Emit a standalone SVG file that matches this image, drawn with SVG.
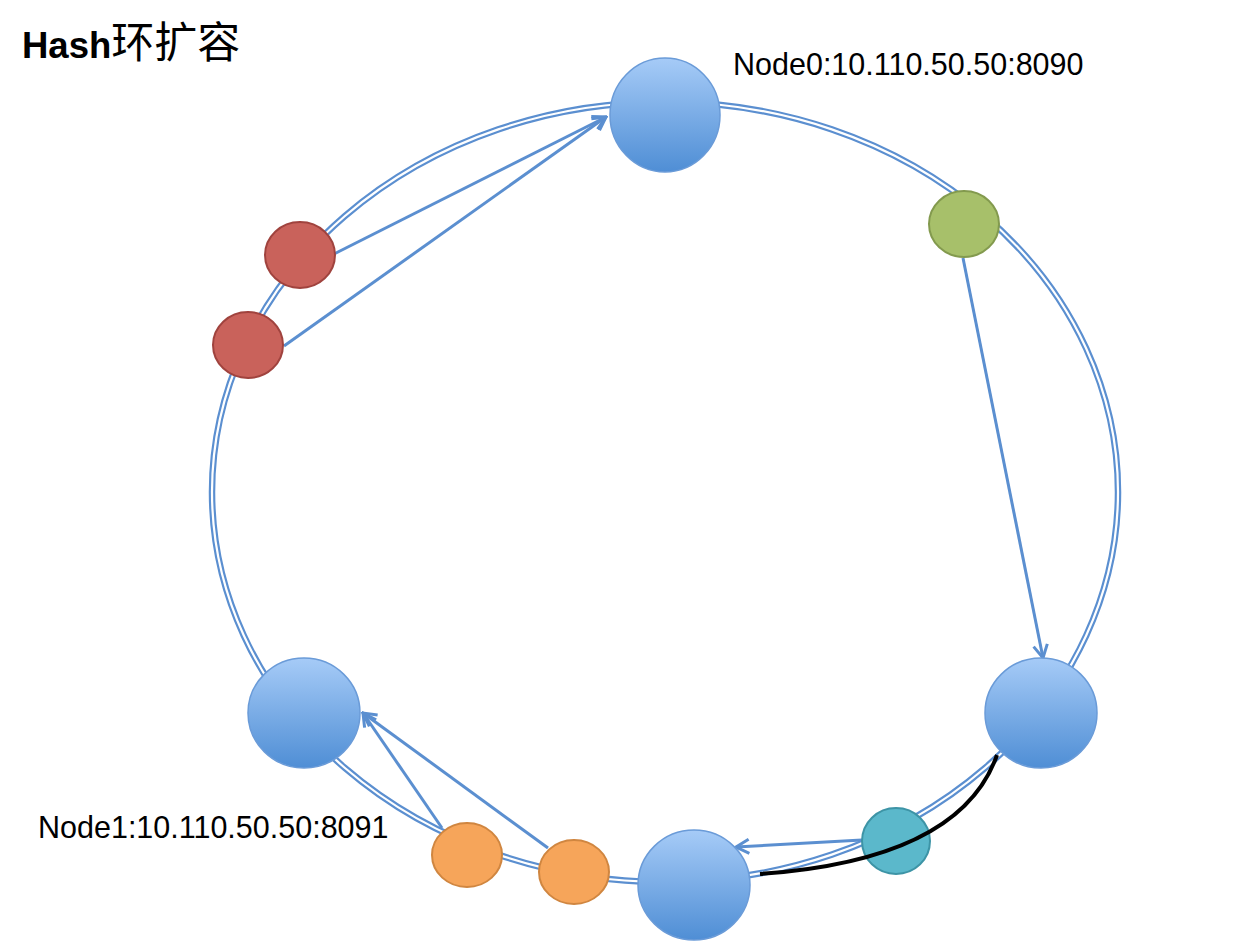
<svg xmlns="http://www.w3.org/2000/svg" width="1258" height="950" viewBox="0 0 1258 950">
<style>
.ring1{fill:none;stroke:#5b8fd0;stroke-width:6.5}
.ring2{fill:none;stroke:#ffffff;stroke-width:2.2}
.arr{fill:none;stroke:#5b8fd0;stroke-width:3;marker-end:url(#ah)}
.big{fill:url(#bg);stroke:#6a9bd8;stroke-width:1.5}
.red{fill:#c9625b;stroke:#a0433e;stroke-width:2}
.green{fill:#a7c06a;stroke:#839a4e;stroke-width:2}
.orange{fill:#f6a55a;stroke:#d08640;stroke-width:2}
.teal{fill:#5bb8cb;stroke:#3d94a6;stroke-width:2}
.lbl{font-family:"Liberation Sans",Arial,sans-serif;font-size:30.5px;fill:#000}
</style>
<defs>
<linearGradient id="bg" x1="0" y1="0" x2="0" y2="1">
<stop offset="0" stop-color="#a6cbf7"/>
<stop offset="1" stop-color="#4f8ed5"/>
</linearGradient>
<marker id="ah" markerUnits="userSpaceOnUse" markerWidth="18" markerHeight="18" viewBox="0 0 18 18" refX="16" refY="9" orient="auto">
<path d="M3,2 L16,9 L3,16" fill="none" stroke="#5b8fd0" stroke-width="3"/>
</marker>
</defs>
<rect width="1258" height="950" fill="#ffffff"/>
<text x="22" y="58" font-family="Liberation Sans,Arial,sans-serif" font-size="36.5" font-weight="bold" fill="#000">Hash<tspan font-family="Noto Sans CJK SC,sans-serif" font-size="43" font-weight="normal">环扩容</tspan></text>
<g id="ring">
<ellipse cx="665" cy="492" rx="453" ry="390" class="ring1"/>
<ellipse cx="665" cy="492" rx="453" ry="390" class="ring2"/>
</g>
<g id="connectors">
<line x1="334" y1="254" x2="606" y2="117" class="arr"/>
<line x1="284" y1="346" x2="606" y2="117" class="arr"/>
<line x1="963" y1="258" x2="1043" y2="658" class="arr"/>
<line x1="442" y1="828" x2="363" y2="713" class="arr"/>
<line x1="548" y1="848" x2="363" y2="713" class="arr"/>
<line x1="862" y1="840" x2="736" y2="847" class="arr"/>
</g>
<g id="node0"><ellipse cx="665" cy="115" rx="55" ry="57" class="big"/><text x="733" y="75" class="lbl">Node0:10.110.50.50:8090</text></g>
<g id="nodeRight"><ellipse cx="1041" cy="713" rx="56" ry="55" class="big"/></g>
<g id="nodeBottom"><ellipse cx="694" cy="885" rx="56" ry="55" class="big"/></g>
<g id="node1"><ellipse cx="304" cy="713" rx="56" ry="55" class="big"/><text x="38" y="838" class="lbl">Node1:10.110.50.50:8091</text></g>
<g id="red1"><ellipse cx="300" cy="255" rx="35" ry="33" class="red"/></g>
<g id="red2"><ellipse cx="248" cy="345" rx="35" ry="33" class="red"/></g>
<g id="green"><ellipse cx="964" cy="224" rx="35" ry="33" class="green"/></g>
<g id="teal"><ellipse cx="896" cy="841" rx="34" ry="33" class="teal"/></g>
<g id="orange1"><ellipse cx="467" cy="855" rx="35" ry="32" class="orange"/></g>
<g id="orange2"><ellipse cx="574" cy="872" rx="35" ry="32" class="orange"/></g>
<g id="newRange"><path d="M997,755 Q960,860 760,874" fill="none" stroke="#000" stroke-width="4"/></g>
</svg>
